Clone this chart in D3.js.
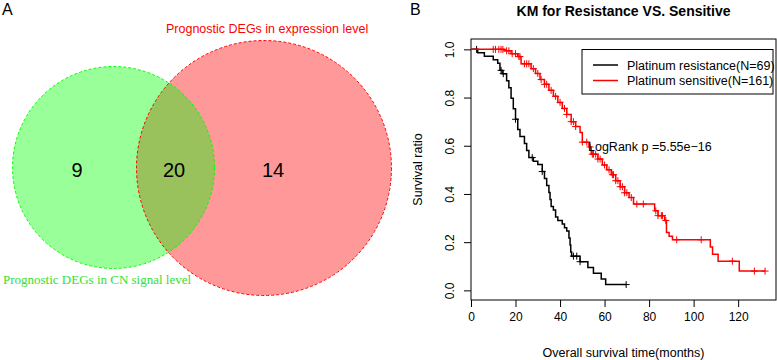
<!DOCTYPE html>
<html>
<head>
<meta charset="utf-8">
<script src="https://cdn.jsdelivr.net/npm/d3@7"></script>
<style>
  body { margin: 0; background: #fff; }
  text { font-family: "Liberation Sans", Arial, Helvetica, sans-serif; }
</style>
</head>
<body>
<svg id="chart" width="777" height="360"></svg>
<script>
// Venn panel
const vennSets = ['Prognostic DEGs in CN signal level', 'Prognostic DEGs in expression level'];
const vennCounts = [9, 20, 14]; // CN only, both, expression only

// KM panel
const groups = ['Platinum resistance(N=69)', 'Platinum sensitive(N=161)'];
const resTimes = [0, 3, 6, 10, 12, 13, 14, 16, 17, 18, 19, 20, 21, 22, 24, 25, 26, 28, 30, 32,
  33, 34, 35, 35.5, 36, 37, 38, 39, 41, 42, 43, 44, 44.5, 44.8, 45.2, 49, 52.5, 55, 58.5, 60.5];
const resSurv = [1, 0.986, 0.971, 0.957, 0.942, 0.913, 0.899, 0.87, 0.841, 0.797, 0.754, 0.71, 0.667, 0.638, 0.609, 0.58, 0.551, 0.536, 0.522, 0.493,
  0.464, 0.435, 0.406, 0.377, 0.348, 0.333, 0.304, 0.29, 0.275, 0.26, 0.246, 0.217, 0.188, 0.159, 0.142, 0.119, 0.095, 0.071, 0.047, 0.024];
const resCensor = [2.5, 13.5, 14.5, 20, 27.5, 32, 46, 47.5, 49, 69.7];

const senTimes = [0, 15, 18, 21, 22.5, 27, 29, 31, 33, 35, 37, 39, 41, 43, 45, 47, 49, 50, 53, 54,
  57, 59, 61, 63, 65, 67, 69, 71, 73, 82.5, 84, 87, 87.8, 89, 90.5, 107.5, 108.5, 111, 120.5];
const senSurv = [1, 0.994, 0.982, 0.97, 0.94, 0.92, 0.9, 0.875, 0.855, 0.83, 0.805, 0.78, 0.755, 0.73, 0.7, 0.68, 0.655, 0.615, 0.595, 0.565,
  0.545, 0.52, 0.5, 0.48, 0.455, 0.43, 0.405, 0.385, 0.358, 0.33, 0.31, 0.29, 0.24, 0.225, 0.21, 0.18, 0.15, 0.121, 0.08];
const senCensor = [10, 11, 12.5, 13.5, 14.3, 16, 17, 18.5, 20, 21.5, 22, 24, 25, 26, 28, 30, 31.5, 33, 34, 36,
  38, 40, 42, 43, 45, 46, 47, 50, 52, 53.5, 54.5, 55, 56, 57, 58, 60, 62, 63.5, 64, 65, 66, 67, 68, 69,
  70, 72, 74.5, 77.4, 83, 84, 85.5, 86, 87.5, 92.4, 103.4, 117.4, 127.3, 132.1];
const xTicks = [0, 20, 40, 60, 80, 100, 120];
const yTicks = [0, 0.2, 0.4, 0.6, 0.8, 1.0];
const pText = 'LogRank p =5.55e\u221216';

const svg = d3.select('#chart');

// ---------- A: Venn ----------
svg.append('text').attr('x', 2).attr('y', 15).style('font-size', '16px').text('A');

const circles = [
  { cx: 113.5, cy: 167.5, r: 101, color: '#00ff00' },
  { cx: 264, cy: 168, r: 127.5, color: '#ff0000' },
];
const venn = svg.append('g');
venn.selectAll('circle.fill')
  .data([circles[1], circles[0]])
  .enter().append('circle')
  .attr('class', 'fill')
  .attr('cx', d => d.cx).attr('cy', d => d.cy).attr('r', d => d.r)
  .attr('fill', d => d.color).attr('fill-opacity', 0.4);
venn.selectAll('circle.edge')
  .data(circles)
  .enter().append('circle')
  .attr('class', 'edge')
  .attr('cx', d => d.cx).attr('cy', d => d.cy).attr('r', d => d.r)
  .attr('fill', 'none').attr('stroke', d => d.color)
  .attr('stroke-width', 1).attr('stroke-dasharray', '3,2');

const countX = [77, 174, 273];
venn.selectAll('text.count')
  .data(vennCounts)
  .enter().append('text')
  .attr('class', 'count')
  .attr('x', (d, i) => countX[i]).attr('y', 177)
  .attr('text-anchor', 'middle')
  .style('font-size', '20px')
  .text(d => d);

venn.append('text').attr('x', 166).attr('y', 33)
  .attr('fill', '#ff0000').style('font-size', '12.5px').text(vennSets[1]);
venn.append('text').attr('x', 3).attr('y', 284)
  .attr('fill', '#33e033').style('font-size', '13px')
  .style('font-family', '"Liberation Serif", "Times New Roman", serif')
  .text(vennSets[0]);

// ---------- B: KM ----------
svg.append('text').attr('x', 410).attr('y', 15).style('font-size', '16px').text('B');

const box = { left: 471, right: 776, top: 39, bottom: 300 };
const x = d3.scaleLinear().domain([0, 137]).range([box.left, box.right]);
const y = d3.scaleLinear().domain([-0.04, 1.043]).range([box.bottom, box.top]);

svg.append('text')
  .attr('x', (box.left + box.right) / 2).attr('y', 16)
  .attr('text-anchor', 'middle')
  .style('font-size', '14px').style('font-weight', 'bold')
  .text('KM for Resistance VS. Sensitive');

const km = svg.append('g');

const xAxis = d3.axisBottom(x).tickValues(xTicks).tickSize(7).tickSizeOuter(0).tickPadding(5);
km.append('g')
  .attr('transform', 'translate(0,' + box.bottom + ')')
  .call(xAxis)
  .call(g => g.select('.domain').remove())
  .selectAll('text')
  .style('font-size', '12px').style('font-family', '"Liberation Sans", Arial, sans-serif');

const yAxis = d3.axisLeft(y).tickValues(yTicks).tickSize(7).tickSizeOuter(0).tickFormat(d3.format('.1f'));
km.append('g')
  .attr('transform', 'translate(' + box.left + ',0)')
  .call(yAxis)
  .call(g => g.select('.domain').remove())
  .selectAll('text')
  .attr('transform', 'rotate(-90)')
  .attr('x', 0)
  .attr('y', -17).attr('dy', 0)
  .style('text-anchor', 'middle')
  .style('font-size', '12px').style('font-family', '"Liberation Sans", Arial, sans-serif');

km.selectAll('.tick line').attr('stroke', '#000');

km.append('rect')
  .attr('x', box.left).attr('y', box.top)
  .attr('width', box.right - box.left).attr('height', box.bottom - box.top)
  .attr('fill', 'none').attr('stroke', '#000').attr('stroke-width', 1);

km.append('text')
  .attr('x', (box.left + box.right) / 2).attr('y', 357)
  .attr('text-anchor', 'middle').style('font-size', '12.5px')
  .text('Overall survival time(months)');
km.append('text')
  .attr('transform', 'translate(422,' + ((box.top + box.bottom) / 2) + ') rotate(-90)')
  .attr('text-anchor', 'middle').style('font-size', '12.5px')
  .text('Survival ratio');

function survAt(times, surv, t) {
  let i = d3.bisectRight(times, t) - 1;
  return surv[Math.max(i, 0)];
}

const curves = [
  { times: resTimes, surv: resSurv, censor: resCensor, color: '#000' },
  { times: senTimes, surv: senSurv, censor: senCensor, color: '#ff0000' },
];

const line = d3.line()
  .x(d => x(d[0]))
  .y(d => y(d[1]))
  .curve(d3.curveStepAfter);

curves.forEach(function(c) {
  const pts = c.times.map((t, i) => [t, c.surv[i]]);
  const tEnd = d3.max(c.censor);
  pts.push([tEnd, survAt(c.times, c.surv, tEnd)]);
  km.append('path')
    .datum(pts)
    .attr('d', line)
    .attr('fill', 'none')
    .attr('stroke', c.color)
    .attr('stroke-width', 1.5);

  const marks = km.append('g');
  marks.selectAll('path')
    .data(c.censor)
    .enter().append('path')
    .attr('d', function(t) {
      const px = x(t), py = y(survAt(c.times, c.surv, t));
      return 'M' + (px - 3.5) + ',' + py + 'H' + (px + 3.5) + 'M' + px + ',' + (py - 3.5) + 'V' + (py + 3.5);
    })
    .attr('stroke', c.color)
    .attr('stroke-width', 1)
    .attr('fill', 'none');
});

km.append('text')
  .attr('x', 588).attr('y', 150.5)
  .style('font-size', '12.5px')
  .text(pText);

// legend
const legend = km.append('g');
legend.append('rect')
  .attr('x', 582).attr('y', 49.5).attr('width', 191).attr('height', 44.5)
  .attr('fill', '#fff').attr('stroke', '#000').attr('stroke-width', 1);
legend.selectAll('line')
  .data(groups)
  .enter().append('line')
  .attr('x1', 593).attr('x2', 618)
  .attr('y1', (d, i) => 65 + i * 15.5).attr('y2', (d, i) => 65 + i * 15.5)
  .attr('stroke', (d, i) => curves[i].color)
  .attr('stroke-width', 1.5);
legend.selectAll('text')
  .data(groups)
  .enter().append('text')
  .attr('x', 627)
  .attr('y', (d, i) => 69.5 + i * 15.5)
  .style('font-size', '12.5px')
  .text(d => d);
</script>
</body>
</html>
